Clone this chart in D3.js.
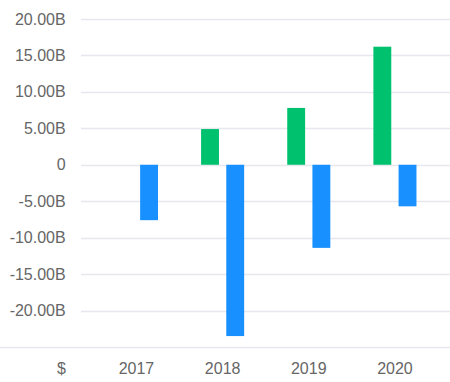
<!DOCTYPE html>
<html>
<head>
<meta charset="utf-8">
<script src="https://cdn.jsdelivr.net/npm/d3@7"></script>
<style>
  html, body { margin: 0; padding: 0; background: #fff; }
  svg { display: block; }
  text { font-family: "Liberation Sans", Arial, sans-serif; font-size: 16px; fill: #666; }
</style>
</head>
<body>
<svg id="chart" width="450" height="382"></svg>
<script>
const years = ["2017", "2018", "2019", "2020"];
const seriesNames = ["inflow", "outflow"];
const inflow = [null, 4.9, 7.8, 16.2];
const outflow = [-7.6, -23.5, -11.4, -5.7];
const yTicks = [20, 15, 10, 5, 0, -5, -10, -15, -20];
const yTickLabels = ["20.00B", "15.00B", "10.00B", "5.00B", "0", "-5.00B", "-10.00B", "-15.00B", "-20.00B"];
const currencyLabel = "$";
const colors = { inflow: "#00c16e", outflow: "#1890ff" };

const svg = d3.select("#chart");
const W = 450;

const y = d3.scaleLinear().domain([-25, 20]).range([347, 19]);
const x = d3.scaleBand().domain(years).range([93.4, 438]).padding(0);
const bw = x.bandwidth();
const x1 = d3.scaleBand().domain(seriesNames).range([bw * 0.25, bw * 0.75]).paddingInner(0.29).paddingOuter(0);

// gridlines
svg.append("g").selectAll("line").data(yTicks).join("line")
  .attr("x1", 81).attr("x2", W)
  .attr("y1", d => Math.round(y(d)) + 0.5).attr("y2", d => Math.round(y(d)) + 0.5)
  .attr("stroke", "#e6e8ee").attr("stroke-width", 1.5);

// bottom baseline
svg.append("line")
  .attr("x1", 0).attr("x2", W)
  .attr("y1", Math.round(y(-25)) + 0.5).attr("y2", Math.round(y(-25)) + 0.5)
  .attr("stroke", "#e6e8ee").attr("stroke-width", 1.5);

// y labels
svg.append("g").selectAll("text").data(yTicks).join("text")
  .attr("x", 65.7).attr("y", d => y(d))
  .attr("text-anchor", "end").attr("dominant-baseline", "central")
  .text((d, i) => yTickLabels[i]);

// bars
const rows = years.map((yr, i) => ({ year: yr, inflow: inflow[i], outflow: outflow[i] }));
const g = svg.append("g");
rows.forEach(r => {
  seriesNames.forEach(s => {
    const v = r[s];
    if (v === null || v === undefined) return;
    g.append("rect")
      .attr("x", x(r.year) + x1(s))
      .attr("width", x1.bandwidth())
      .attr("y", Math.min(y(v), y(0)))
      .attr("height", Math.abs(y(v) - y(0)))
      .attr("fill", colors[s]);
  });
});

// x labels
svg.append("g").selectAll("text").data(years).join("text")
  .attr("x", d => x(d) + bw / 2).attr("y", 368)
  .attr("text-anchor", "middle").attr("dominant-baseline", "central")
  .text(d => d);

svg.append("text").attr("x", 61.5).attr("y", 368)
  .attr("text-anchor", "middle").attr("dominant-baseline", "central")
  .text(currencyLabel);
</script>
</body>
</html>
